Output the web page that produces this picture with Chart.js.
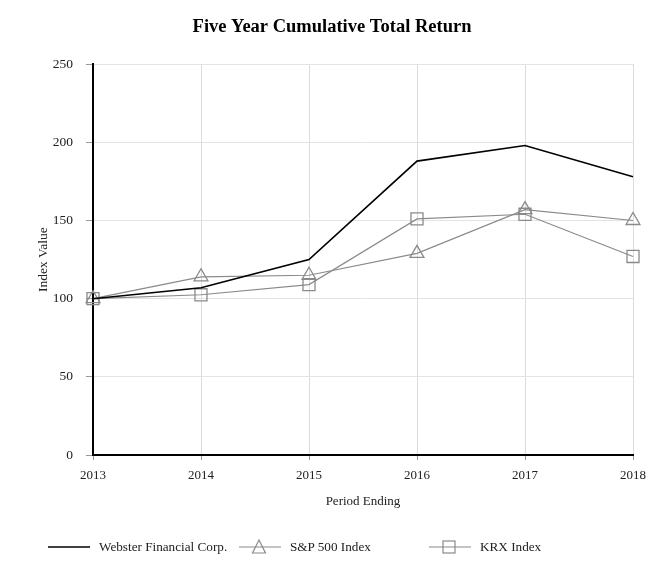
<!DOCTYPE html>
<html>
<head>
<meta charset="utf-8">
<script src="https://cdn.jsdelivr.net/npm/chart.js@4"></script>
<style>
  body { margin: 0; background: #fff; }
  #wrap { position: relative; width: 666px; height: 584px; }
  #legend { position: absolute; top: 537px; left: 0; width: 666px; height: 20px;
    font-family: "Liberation Serif", serif; font-size: 13.2px; color: #222; }
  .item { position: absolute; top: 0; display: flex; align-items: center; height: 20px; }
  .item svg { margin-right: 9px; }
</style>
</head>
<body>
<div id="wrap">
  <canvas id="chart" width="666" height="584"></canvas>
  <div id="legend"></div>
</div>
<script>
const years = ['2013', '2014', '2015', '2016', '2017', '2018'];
const webster = [100, 107, 125, 188, 198, 178];
const sp500 = [100, 114, 115, 129, 157, 150];
const krx = [100, 102.5, 109, 151, 154, 127];

const serif = '"Liberation Serif", "Times New Roman", serif';
const grey = '#8a8a8a';

const ctx = document.getElementById('chart').getContext('2d');
new Chart(ctx, {
    type: 'line',
    data: {
        labels: years,
        datasets: [
            { label: 'Webster Financial Corp.', data: webster, borderColor: '#000', borderWidth: 1.6,
              pointRadius: 0, tension: 0 },
            { label: 'S&P 500 Index', data: sp500, borderColor: grey, borderWidth: 1.2,
              pointStyle: 'triangle', pointRadius: 8, pointBorderColor: grey, pointBorderWidth: 1.3,
              pointBackgroundColor: 'rgba(0,0,0,0)', tension: 0 },
            { label: 'KRX Index', data: krx, borderColor: grey, borderWidth: 1.2,
              pointStyle: 'rect', pointRadius: 8.5, pointBorderColor: grey, pointBorderWidth: 1.3,
              pointBackgroundColor: 'rgba(0,0,0,0)', tension: 0 }
        ]
    },
    options: {
        responsive: false,
        animation: false,
        layout: { padding: { left: 31, right: 33, top: 16, bottom: 71 } },
        plugins: {
            legend: { display: false },
            tooltip: { enabled: false },
            title: {
                display: true,
                text: 'Five Year Cumulative Total Return',
                color: '#000',
                font: { family: serif, size: 18.5, weight: 'bold' },
                padding: { top: 0, bottom: 26 }
            }
        },
        scales: {
            x: {
                offset: false,
                grid: { color: '#dcdcdc', tickLength: 5, tickColor: '#999' },
                border: { color: '#000', width: 2 },
                ticks: { color: '#222', font: { family: serif, size: 13 }, padding: 8, maxRotation: 0 },
                title: { display: true, text: 'Period Ending', color: '#222',
                    font: { family: serif, size: 13 }, padding: { top: 6 } },
                afterFit(s) { s.height = 58; }
            },
            y: {
                min: 0, max: 250,
                grid: { color: '#e3e3e3', tickLength: 7, tickColor: '#999' },
                border: { color: '#000', width: 2 },
                ticks: { stepSize: 50, color: '#222', font: { family: serif, size: 13.5 }, padding: 13 },
                title: { display: true, text: 'Index Value', color: '#222',
                    font: { family: serif, size: 13.5 }, padding: { bottom: 8 } },
                afterFit(s) { s.width = 62; }
            }
        }
    }
});

// legend laid out like the original (fixed positions)
const legendItems = [
    { label: 'Webster Financial Corp.', x: 48, color: '#000', marker: null, w: 1.6 },
    { label: 'S&P 500 Index', x: 239, color: grey, marker: 'triangle', w: 1.2 },
    { label: 'KRX Index', x: 429, color: grey, marker: 'rect', w: 1.2 }
];
const legend = document.getElementById('legend');
legendItems.forEach(it => {
    const div = document.createElement('div');
    div.className = 'item';
    div.style.left = it.x + 'px';
    let mark = '';
    if (it.marker === 'triangle') mark = `<polygon points="20,3 26.5,16 13.5,16" fill="none" stroke="${it.color}" stroke-width="1.2"/>`;
    if (it.marker === 'rect') mark = `<rect x="14" y="4" width="12" height="12" fill="none" stroke="${it.color}" stroke-width="1.2"/>`;
    div.innerHTML = `<svg width="42" height="20"><line x1="0" y1="10" x2="42" y2="10" stroke="${it.color}" stroke-width="${it.w}"/>${mark}</svg><span>${it.label}</span>`;
    legend.appendChild(div);
});
</script>
</body>
</html>
